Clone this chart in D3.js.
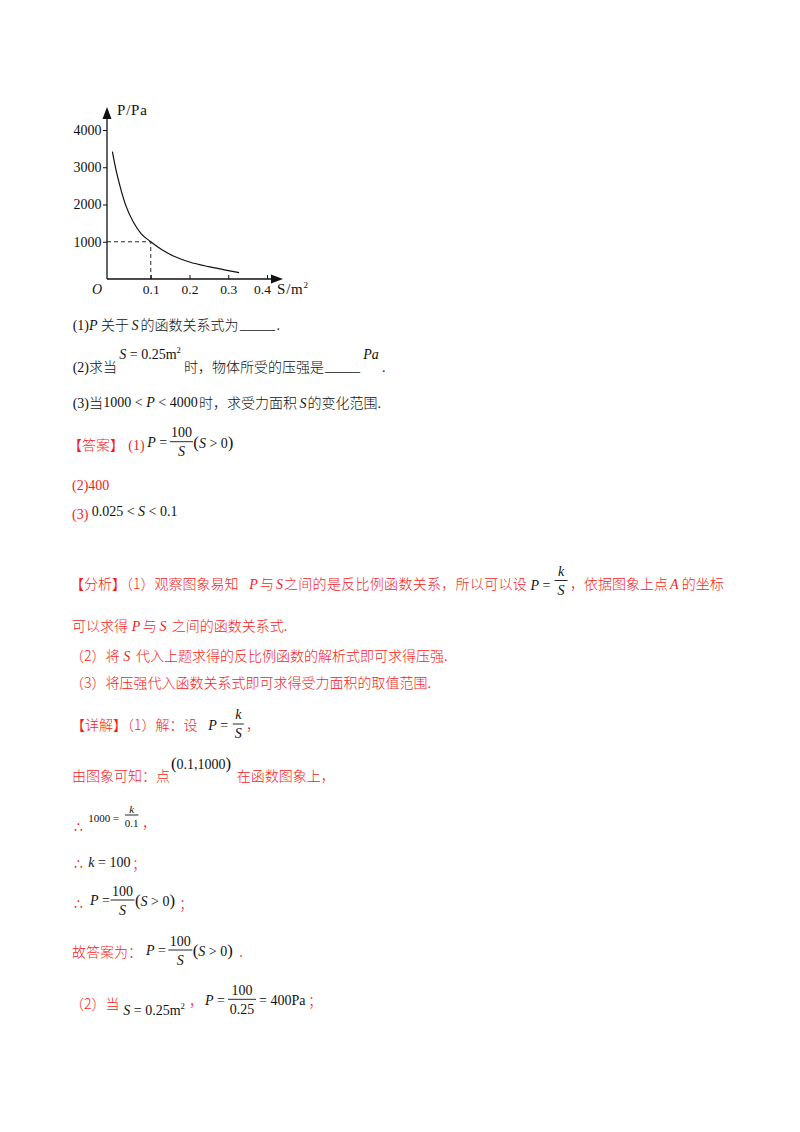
<!DOCTYPE html>
<meta charset="utf-8">
<title>P-S 反比例函数</title>
<style>
  body { margin: 0; background: #fff; }
  svg { display: block; }
  svg text { white-space: pre; }
</style>
<body>
<script src="https://d3js.org/d3.v7.min.js"></script>
<script>

// points (S in m², P in Pa)
const sVals = [0.001, 0.0095, 0.02, 0.035, 0.055, 0.075, 0.1, 0.13, 0.16, 0.2, 0.25, 0.29, 0.328];
const pVals = [3420, 2970, 2520, 1990, 1530, 1220, 1000, 780, 610, 456, 330, 247, 170];
const pointA = [0.1, 1000];
const xTicks = [0.1, 0.2, 0.3, 0.4];
const yTicks = [1000, 2000, 3000, 4000];

const CN = '"Noto Sans CJK SC", sans-serif';
const SERIF = '"Liberation Serif", "Times New Roman", serif';
const RED = "#f41c1c";
const INK = "#111";

const svg = d3.select("body").append("svg")
    .attr("width", 800)
    .attr("height", 1132);

// ---------- chart ----------
const x = d3.scaleLinear().domain([0, 0.4]).range([112, 267]);
const y = d3.scaleLinear().domain([0, 4000]).range([279, 130]);
const axisX = x(0) - 5;   // the printed y axis stands a bit left of S = 0

const chart = svg.append("g");

const yAxis = chart.append("g")
    .attr("transform", `translate(${axisX},0)`)
    .call(d3.axisLeft(y).tickValues(yTicks).tickSize(4).tickPadding(1.5).tickFormat(d3.format("d")));
const xAxis = chart.append("g")
    .attr("transform", `translate(0,${y(0)})`)
    .call(d3.axisBottom(x).tickValues(xTicks).tickSize(-4).tickPadding(5).tickFormat(d3.format(".1f")));

[yAxis, xAxis].forEach(g => {
  g.select(".domain").remove();
  g.attr("font-family", SERIF).attr("font-size", 14);
  g.selectAll("line").attr("stroke", INK).attr("stroke-width", 1);
  g.selectAll("text").attr("fill", INK);
});
xAxis.attr("font-size", 13.5);
// last label is nudged left in the print to clear the axis title
xAxis.selectAll(".tick text").filter(d => d === 0.4).attr("dx", -5);

// axis lines with arrow heads
const yTop = y(4000) - 23, xEnd = x(0.4) + 16;
chart.append("line")
    .attr("x1", axisX).attr("y1", y(0)).attr("x2", axisX).attr("y2", yTop + 4)
    .attr("stroke", INK).attr("stroke-width", 1.3);
chart.append("line")
    .attr("x1", axisX).attr("y1", y(0)).attr("x2", xEnd - 4).attr("y2", y(0))
    .attr("stroke", INK).attr("stroke-width", 1.3);
chart.append("path")
    .attr("d", `M${axisX},${yTop}L${axisX - 4.5},${yTop + 12}L${axisX + 4.5},${yTop + 12}Z`)
    .attr("fill", INK);
chart.append("path")
    .attr("d", `M${xEnd},${y(0)}L${xEnd - 12},${y(0) - 4.5}L${xEnd - 12},${y(0) + 4.5}Z`)
    .attr("fill", INK);

// dashed guides to point A
chart.append("path")
    .attr("d", `M${axisX},${y(pointA[1])}H${x(pointA[0])}V${y(0)}`)
    .attr("fill", "none")
    .attr("stroke", INK)
    .attr("stroke-width", 0.9)
    .attr("stroke-dasharray", "4,3");

// the curve
const pts = sVals.map((s, i) => ({ s, p: pVals[i] }));
chart.append("path")
    .datum(pts)
    .attr("fill", "none")
    .attr("stroke", INK)
    .attr("stroke-width", 1.2)
    .attr("d", d3.line().x(d => x(d.s)).y(d => y(d.p)).curve(d3.curveMonotoneX));

// axis titles
chart.append("text").attr("x", axisX + 10).attr("y", 115)
    .attr("font-family", SERIF).attr("font-size", 15).attr("letter-spacing", 0.8).attr("fill", INK)
    .text("P/Pa");
chart.append("text").attr("x", axisX - 10).attr("y", y(0) + 15)
    .attr("font-family", SERIF).attr("font-style", "italic").attr("font-size", 14)
    .attr("text-anchor", "middle").attr("fill", INK)
    .text("O");
const st = chart.append("text").attr("x", xEnd - 6).attr("y", y(0) + 15)
    .attr("font-family", SERIF).attr("font-size", 15).attr("letter-spacing", 0.8).attr("fill", INK);
st.append("tspan").text("S/m");
st.append("tspan").attr("font-size", 9).attr("dy", -6).text("2");

// ---------- text helpers ----------
function run(x0, y0, parts, color = INK, size = 14) {
  const t = svg.append("text").attr("x", x0).attr("y", y0)
      .attr("font-size", size).attr("fill", color);
  parts.forEach(([s, k]) => {
    const sp = t.append("tspan").text(s)
        .attr("font-family", k === "cn" ? CN : SERIF)
        .attr("font-style", k === "i" ? "italic" : null);
    if (k === "cn") sp.attr("font-weight", 300);
    if (k === "sup") sp.attr("font-size", size * 0.62).attr("dy", -size * 0.42);
    if (k === "big") sp.attr("font-size", size * 1.2);
  });
  return t;
}
const cn = (x0, y0, s, color = RED) => run(x0, y0, [[s, "cn"]], color);

function frac(cx, barY, num, den, half, size = 14, up = 4.5, down = 14.5) {
  svg.append("line")
      .attr("x1", cx - half).attr("x2", cx + half)
      .attr("y1", barY).attr("y2", barY)
      .attr("stroke", INK).attr("stroke-width", 0.9);
  run(cx, barY - up, num, INK, size).attr("text-anchor", "middle");
  run(cx, barY + down, den, INK, size).attr("text-anchor", "middle");
}
const therefore = (y0) => svg.append("text").attr("x", 74).attr("y", y0)
    .attr("font-family", '"DejaVu Sans", sans-serif').attr("font-size", 14)
    .attr("fill", RED).text("∴");

// ---------- question ----------
run(72.7, 330, [["(1)", "r"], ["P", "i"]]);
cn(101, 330, "关于", INK);
run(131.5, 330, [["S", "i"]]);
cn(140.5, 330, "的函数关系式为", INK);
run(240, 329, [["_____", "r"]]);
run(276.5, 330, [[".", "r"]]);

run(72.7, 371.5, [["(2)", "r"], ["求当", "cn"]]);
run(119.3, 359, [["S", "i"], [" = 0.25m", "r"], ["2", "sup"]]);
cn(184, 371.5, "时，物体所受的压强是", INK);
run(325, 370.5, [["_____", "r"]]);
run(363.3, 358.5, [["Pa", "i"]]);
run(382, 371.5, [[".", "r"]]);

run(72.7, 407.5, [["(3)", "r"], ["当", "cn"]]);
run(103.3, 406.5, [["1000 < ", "r"], ["P", "i"], [" < 4000", "r"]]);
cn(199, 407.5, "时，求受力面积", INK);
run(299.5, 407.5, [["S", "i"]]);
run(307.5, 407.5, [["的变化范围", "cn"], [".", "r"]]);

// ---------- answer ----------
cn(68, 450, "【答案】");
run(128.3, 450, [["(1)", "r"]], RED);
run(147.3, 447, [["P", "i"], [" =", "r"]]);
frac(181.5, 441.7, [["100", "r"]], [["S", "i"]], 11.5);
run(193.3, 448, [["(", "big"], ["S", "i"], [" > 0", "r"], [")", "big"]]);

run(72, 490, [["(2)400", "r"]], RED);
run(72, 519, [["(3)", "r"]], RED);
run(91.7, 516, [["0.025 < ", "r"], ["S", "i"], [" < 0.1", "r"]]);

// ---------- analysis ----------
cn(70, 589, "【分析】（1）观察图象易知");
run(249.3, 589, [["P", "i"]], RED);
cn(260, 589, "与");
run(276, 589, [["S", "i"]], RED);
cn(284, 589, "之间的是反比例函数关系，所以可以设").attr("letter-spacing", 0.3);
run(530.5, 589.5, [["P", "i"], [" =", "r"]]);
frac(561, 580.5, [["k", "i"]], [["S", "i"]], 6.5);
cn(570, 589, "，依据图象上点");
run(670, 589, [["A", "i"]], RED);
cn(681.7, 589, "的坐标");

cn(72, 631, "可以求得");
run(131.7, 631, [["P", "i"]], RED);
cn(142.7, 631, "与");
run(159.5, 631, [["S", "i"]], RED);
run(171.7, 631, [["之间的函数关系式", "cn"], [".", "r"]], RED);

cn(70, 661, "（2）将");
run(123.3, 661, [["S", "i"]], RED);
run(136, 661, [["代入上题求得的反比例函数的解析式即可求得压强", "cn"], [".", "r"]], RED);

run(70, 688, [["（3）将压强代入函数关系式即可求得受力面积的取值范围", "cn"], [".", "r"]], RED);

// ---------- worked solution ----------
cn(71, 730, "【详解】（1）解：设");
run(208.3, 729.5, [["P", "i"], [" =", "r"]]);
frac(238.3, 724, [["k", "i"]], [["S", "i"]], 5.5, 14, 5.5, 13.5);
cn(246, 730, "，");

cn(72, 781, "由图象可知：点");
run(171, 768.5, [["(", "big"], ["0.1,1000", "r"], [")", "big"]]);
cn(236.7, 781, "在函数图象上，");

therefore(832);
run(88.3, 822, [["1000 =", "r"]], INK, 11);
frac(131.7, 815, [["k", "i"]], [["0.1", "r"]], 6.7, 11, 2.5, 12);
cn(142, 828, "，");

therefore(869);
run(88.3, 866.5, [["k", "i"], [" = 100", "r"]]);
cn(132, 869, "；");

therefore(909);
run(90, 905, [["P", "i"], [" =", "r"]]);
frac(122.5, 900, [["100", "r"]], [["S", "i"]], 12);
run(135, 906, [["(", "big"], ["S", "i"], [" > 0", "r"], [")", "big"]]);
cn(179, 909, "；");

cn(72, 956.5, "故答案为：");
run(146, 955, [["P", "i"], [" =", "r"]]);
frac(180.3, 950, [["100", "r"]], [["S", "i"]], 12);
run(192.7, 956, [["(", "big"], ["S", "i"], [" > 0", "r"], [")", "big"]]);
run(239.3, 957, [[".", "r"]], RED);

cn(70, 1009, "（2）当");
run(123.3, 1015, [["S", "i"], [" = 0.25m", "r"], ["2", "sup"]]);
cn(189, 1006, "，");
run(205, 1005, [["P", "i"], [" =", "r"]]);
frac(242, 999.3, [["100", "r"]], [["0.25", "r"]], 14);
run(259, 1005, [["= 400Pa", "r"]]);
cn(308, 1006, "；");

</script>
